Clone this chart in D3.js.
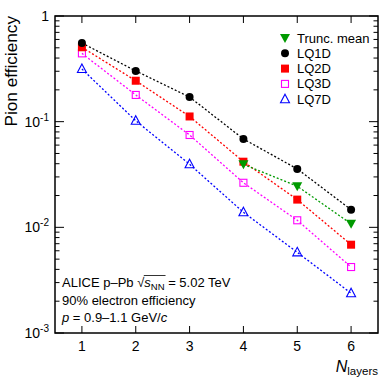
<!DOCTYPE html>
<html>
<head>
<meta charset="utf-8">
<script src="https://cdn.jsdelivr.net/npm/d3@7"></script>
<style>
  body { margin: 0; background: #fff; }
  svg { display: block; font-family: "Liberation Sans", Arial, sans-serif; }
</style>
</head>
<body>
<svg width="390" height="379"></svg>
<script>
// number of TRD layers
var layers = [1, 2, 3, 4, 5, 6];

// pion efficiency per method
var lq1d = [0.555, 0.302, 0.171, 0.0686, 0.0357, 0.0147];
var lq2d = [0.506, 0.244, 0.112, 0.0418, 0.0183, 0.00685];
var lq3d = [0.443, 0.179, 0.0748, 0.0264, 0.01166, 0.00421];
var lq7d = [0.315, 0.102, 0.0395, 0.01388, 0.0058, 0.00238];
var truncLayers = [4, 5, 6];
var truncMean = [0.0395, 0.0245, 0.0108];

var xTicks = [1, 2, 3, 4, 5, 6];
var yMajor = [1e-3, 1e-2, 1e-1, 1];
var yLabels = [["10", "-3"], ["10", "-2"], ["10", "-1"], ["1", ""]];

var svg = d3.select("svg");
var pl = 55, pr = 378, pt = 16, pb = 333;

var x = d3.scaleLinear().domain([0.5, 6.5]).range([pl, pr]);
var y = d3.scaleLog().domain([1e-3, 1]).range([pb, pt]);

var series = [
  { name: "Trunc. mean", xs: truncLayers, ys: truncMean, color: "#009a00", shape: "tri-down", fill: true },
  { name: "LQ1D", xs: layers, ys: lq1d, color: "#000000", shape: "circle", fill: true },
  { name: "LQ2D", xs: layers, ys: lq2d, color: "#ff0000", shape: "square", fill: true },
  { name: "LQ3D", xs: layers, ys: lq3d, color: "#ff00ff", shape: "square", fill: false },
  { name: "LQ7D", xs: layers, ys: lq7d, color: "#0000ff", shape: "tri-up", fill: false }
];

function marker(g, s, cx, cy) {
  var m;
  if (s.shape == "circle") {
    m = g.append("circle").attr("cx", cx).attr("cy", cy).attr("r", 4);
  } else if (s.shape == "square") {
    var h = s.fill ? 4 : 3.5;
    m = g.append("rect").attr("x", cx - h).attr("y", cy - h).attr("width", 2 * h).attr("height", 2 * h);
  } else if (s.shape == "tri-up") {
    m = g.append("path").attr("d", "M" + cx + "," + (cy - 5) + "L" + (cx + 4.5) + "," + (cy + 3.5) + "L" + (cx - 4.5) + "," + (cy + 3.5) + "Z");
  } else {
    m = g.append("path").attr("d", "M" + cx + "," + (cy + 5) + "L" + (cx + 5) + "," + (cy - 4) + "L" + (cx - 5) + "," + (cy - 4) + "Z");
  }
  if (s.fill) m.attr("fill", s.color).attr("stroke", "none");
  else m.attr("fill", "none").attr("stroke", s.color).attr("stroke-width", 1.1);
}

// dotted connecting lines
var line = d3.line().x(function(d) { return x(d[0]); }).y(function(d) { return y(d[1]); });
series.slice().reverse().forEach(function(s) {
  svg.append("path")
    .datum(d3.zip(s.xs, s.ys))
    .attr("d", line)
    .attr("fill", "none")
    .attr("stroke", s.color)
    .attr("stroke-width", 1.3)
    .attr("stroke-dasharray", "2,2");
});

series.slice().reverse().forEach(function(s) {
  var g = svg.append("g");
  s.xs.forEach(function(v, i) { marker(g, s, x(v), y(s.ys[i])); });
});

// frame
svg.append("rect")
  .attr("x", pl).attr("y", pt)
  .attr("width", pr - pl).attr("height", pb - pt)
  .attr("fill", "none").attr("stroke", "#000").attr("stroke-width", 1.5);

// x ticks (inward, top and bottom)
var ax = svg.append("g").attr("stroke", "#000").attr("stroke-width", 1);
xTicks.forEach(function(t) {
  ax.append("line").attr("x1", x(t)).attr("x2", x(t)).attr("y1", pb).attr("y2", pb - 7);
  ax.append("line").attr("x1", x(t)).attr("x2", x(t)).attr("y1", pt).attr("y2", pt + 7);
});
svg.append("g").selectAll("text").data(xTicks).enter().append("text")
  .attr("x", function(d) { return x(d); })
  .attr("y", pb + 18)
  .attr("text-anchor", "middle")
  .attr("font-size", 14)
  .text(function(d) { return d; });

// y ticks, log minor ticks
var minor = [];
for (var e = -3; e < 0; e++) {
  for (var k = 2; k <= 9; k++) minor.push(k * Math.pow(10, e));
}
yMajor.forEach(function(t) {
  ax.append("line").attr("x1", pl).attr("x2", pl + 9).attr("y1", y(t)).attr("y2", y(t));
  ax.append("line").attr("x1", pr).attr("x2", pr - 9).attr("y1", y(t)).attr("y2", y(t));
});
minor.forEach(function(t) {
  ax.append("line").attr("x1", pl).attr("x2", pl + 4.5).attr("y1", y(t)).attr("y2", y(t));
  ax.append("line").attr("x1", pr).attr("x2", pr - 4.5).attr("y1", y(t)).attr("y2", y(t));
});

var yl = svg.append("g").selectAll("text").data(yMajor).enter().append("text")
  .attr("x", pl - 6)
  .attr("y", function(d) { return y(d) + 5; })
  .attr("text-anchor", "end")
  .attr("font-size", 14);
yl.append("tspan").text(function(d, i) { return yLabels[i][0]; });
yl.append("tspan").attr("dy", -6).attr("font-size", 10).text(function(d, i) { return yLabels[i][1]; });

// axis titles
svg.append("text")
  .attr("transform", "translate(17," + pt + ") rotate(-90)")
  .attr("text-anchor", "end")
  .attr("font-size", 17.2)
  .text("Pion efficiency");

var xt = svg.append("text")
  .attr("x", pr)
  .attr("y", 372)
  .attr("text-anchor", "end")
  .attr("font-size", 16);
xt.append("tspan").attr("font-style", "italic").text("N");
xt.append("tspan").attr("dy", 3).attr("font-size", 11.5).text("layers");

// legend
var leg = svg.append("g");
series.forEach(function(s, i) {
  var ly = 38 + i * 15.3;
  marker(leg, s, 285, ly);
  leg.append("text").attr("x", 297).attr("y", ly + 4.5).attr("font-size", 13).text(s.name);
});

// ALICE text block
var tx = 62;
var t1 = svg.append("text").attr("x", tx).attr("y", 287).attr("font-size", 13);
t1.append("tspan").text("ALICE p\u2013Pb\u00A0");
var w0 = t1.node().getComputedTextLength();
var root = svg.append("text").attr("x", tx + w0).attr("y", 287).attr("font-size", 13).text("\u221A");
var rw = root.node().getComputedTextLength();
var t2 = svg.append("text").attr("x", tx + w0 + rw).attr("y", 287).attr("font-size", 13);
t2.append("tspan").attr("font-style", "italic").text("s");
t2.append("tspan").attr("dy", 2.5).attr("font-size", 9.5).text("NN");
var sw = t2.node().getComputedTextLength();
svg.append("line")
  .attr("x1", tx + w0 + rw - 0.5).attr("x2", tx + w0 + rw + sw + 1)
  .attr("y1", 275.5).attr("y2", 275.5)
  .attr("stroke", "#000").attr("stroke-width", 0.8);
svg.append("text").attr("x", tx + w0 + rw + sw).attr("y", 287).attr("font-size", 13).text("\u00A0= 5.02 TeV");

svg.append("text").attr("x", tx).attr("y", 304.5).attr("font-size", 13).text("90% electron efficiency");
var t3 = svg.append("text").attr("x", tx).attr("y", 322).attr("font-size", 13);
t3.append("tspan").attr("font-style", "italic").text("p");
t3.append("tspan").text("\u00A0= 0.9\u20131.1 GeV/");
t3.append("tspan").attr("font-style", "italic").text("c");
</script>
</body>
</html>
